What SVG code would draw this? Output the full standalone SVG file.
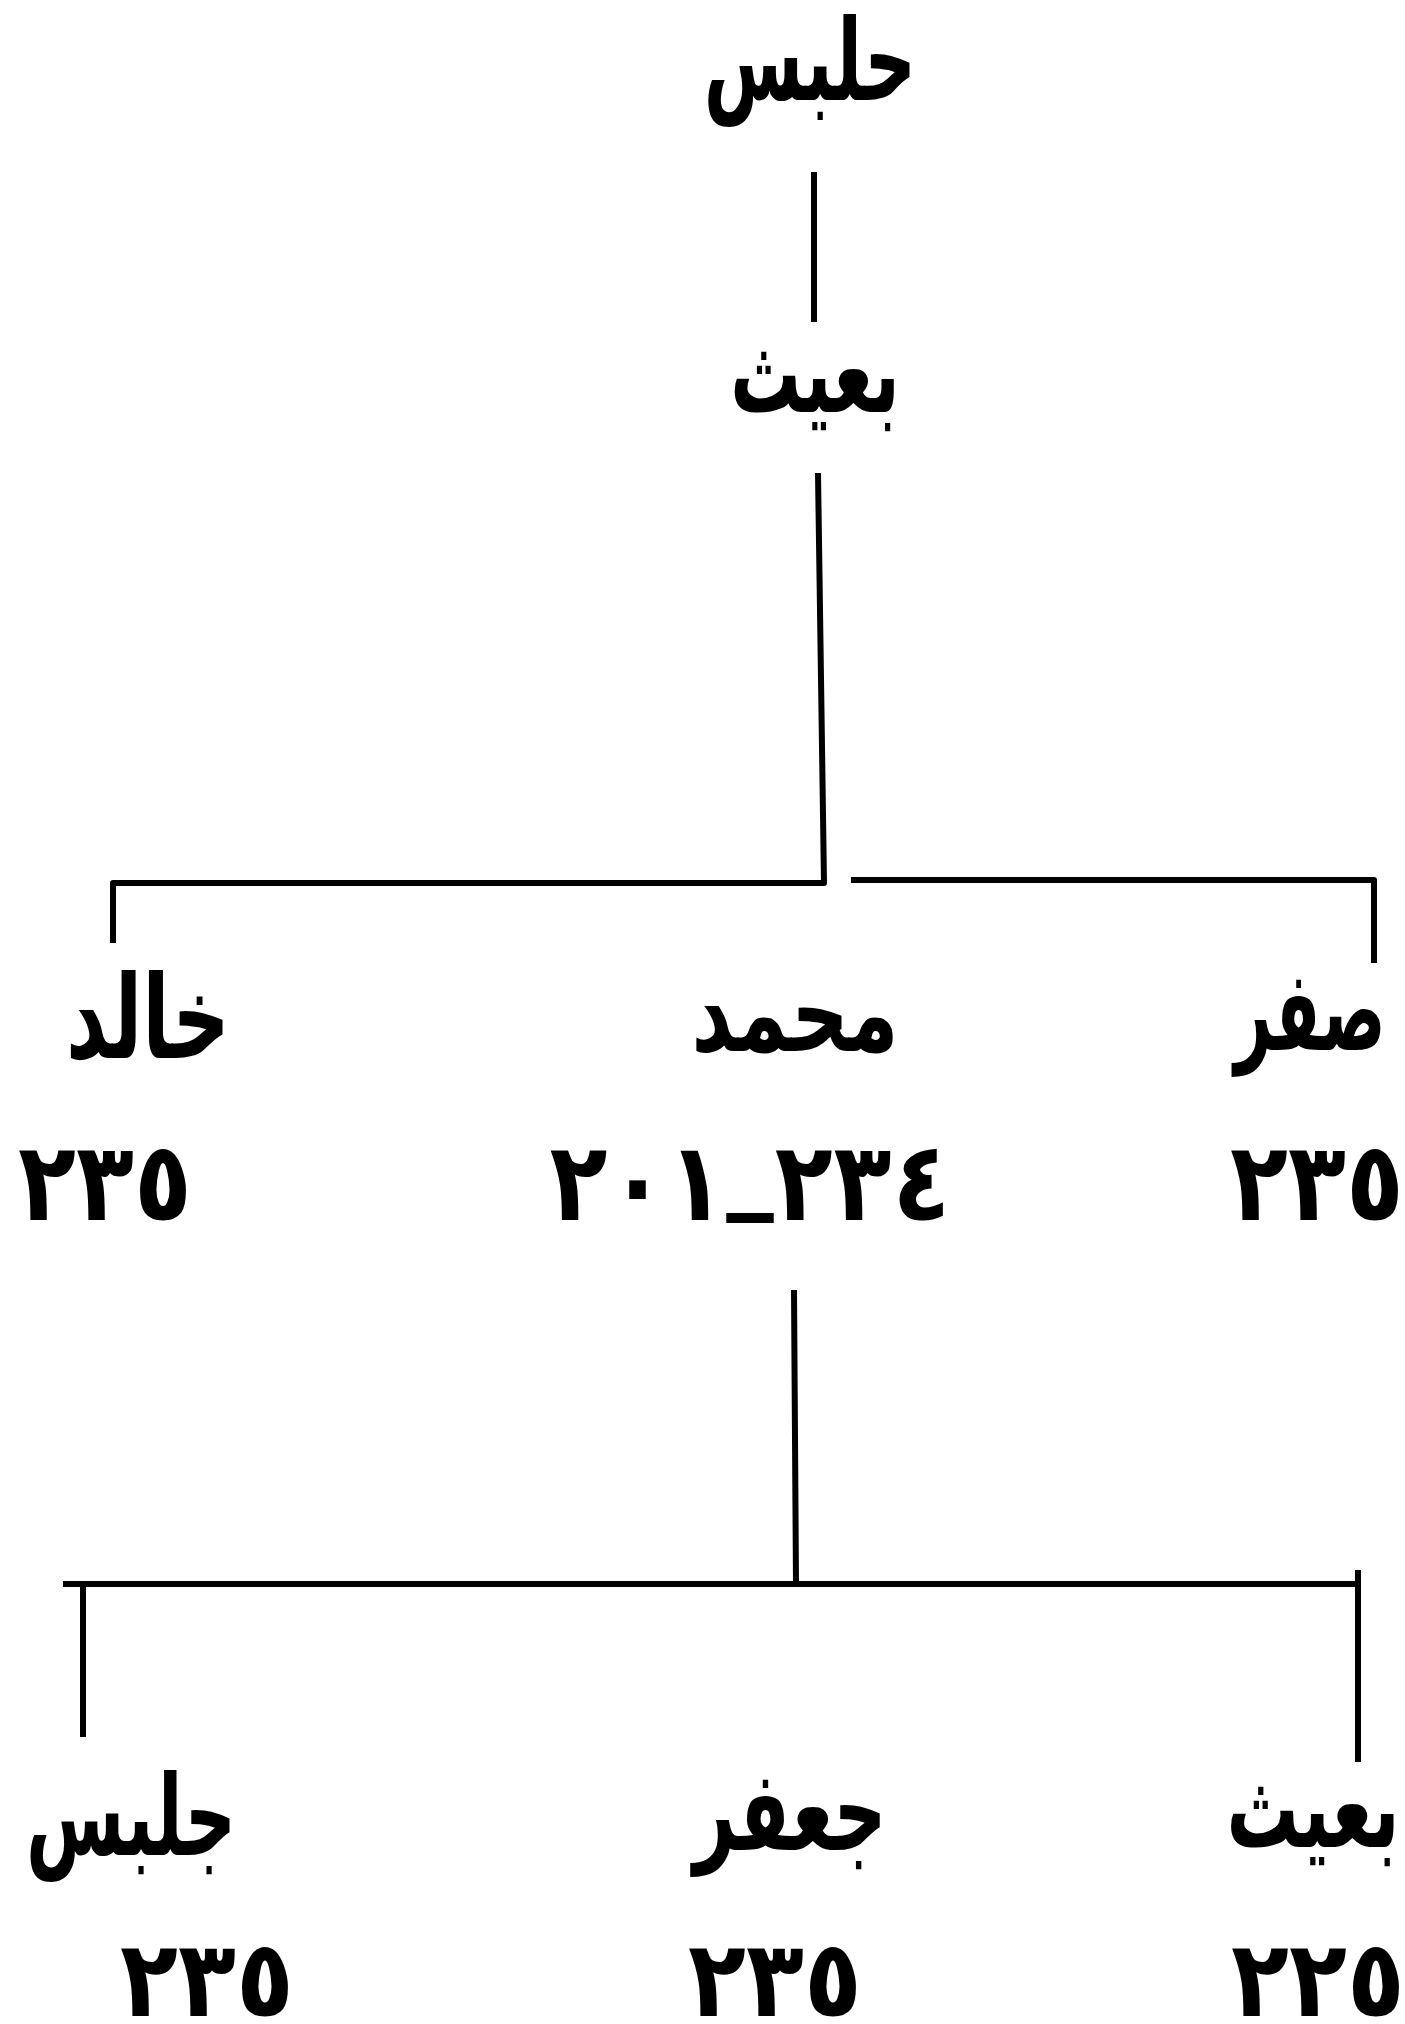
<svg xmlns="http://www.w3.org/2000/svg" width="1405" height="2024" viewBox="0 0 1405 2024">
<style>
.name{font-family:"DejaVu Sans",sans-serif;font-size:80px;font-weight:bold;fill:#000;text-anchor:middle}
.num{font-family:"DejaVu Sans",sans-serif;font-size:95px;font-weight:bold;fill:#000;text-anchor:middle}
.ln{stroke:#000;stroke-width:6;fill:none;stroke-linejoin:round}
</style>
<rect width="1405" height="2024" fill="#fff"/>
<g id="connectors">
<line class="ln" x1="814" y1="172" x2="814" y2="322"/>
<polyline class="ln" points="818,473 824,883 113,883 113,943"/>
<polyline class="ln" points="851,880 1374,880 1374,963"/>
<polyline class="ln" points="794,1290 796,1584 63,1584"/>
<line class="ln" x1="83" y1="1584" x2="83" y2="1737"/>
<polyline class="ln" points="796,1584 1358,1584 1358,1762"/>
<line class="ln" x1="1358" y1="1570" x2="1358" y2="1590"/>
</g>
<g id="n-halbas"><text class="name" transform="translate(810,100) scale(0.9,1.42)">حلبس</text></g>
<g id="n-buayth1"><text class="name" transform="translate(815,412) scale(0.88,1.4)">بعيث</text></g>
<g id="n-khalid"><text class="name" transform="translate(148,1058) scale(1,1.45)">خالد</text><text class="num" transform="translate(105,1220) scale(1,1.15)">٢٣٥</text></g>
<g id="n-muhammad"><text class="name" transform="translate(795,1051) scale(1,1.35)">محمد</text><text class="num" transform="translate(750,1220) scale(1,1.15)" direction="ltr" unicode-bidi="bidi-override" textLength="401" lengthAdjust="spacing">٢٠١<tspan dy="-20">_</tspan><tspan dy="20">٢٣٤</tspan></text></g>
<g id="n-saqr"><text class="name" transform="translate(1310,1050) scale(0.82,1.4)">صفر</text><text class="num" transform="translate(1317,1220) scale(1,1.15)">٢٣٥</text></g>
<g id="n-julbas"><text class="name" transform="translate(131,1855) scale(0.89,1.4)">جلبس</text><text class="num" transform="translate(207,2016) scale(1,1.12)">٢٣٥</text></g>
<g id="n-jafar"><text class="name" transform="translate(790,1850) scale(0.92,1.4)">جعفر</text><text class="num" transform="translate(775,2016) scale(1,1.12)">٢٣٥</text></g>
<g id="n-buayth2"><text class="name" transform="translate(1313,1847) scale(0.9,1.4)">بعيث</text><text class="num" transform="translate(1318,2016) scale(1,1.12)">٢٢٥</text></g>
</svg>
